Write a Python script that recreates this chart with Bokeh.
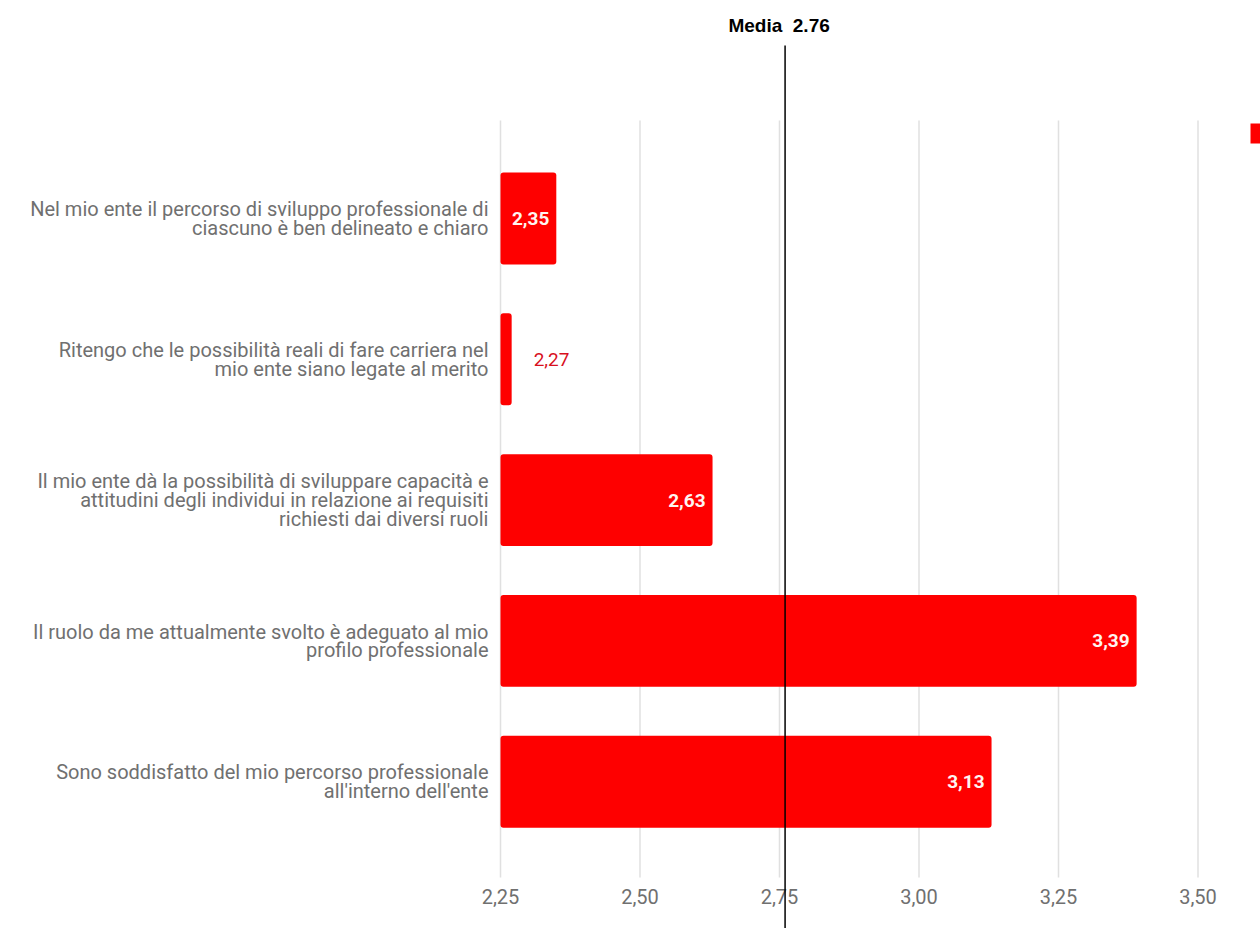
from bokeh.plotting import figure
from bokeh.models import Range1d, ColumnDataSource
from bokeh.core.properties import value
from bokeh.embed import file_html
from bokeh.resources import INLINE

# ---- data ----
categories = [
    "Nel mio ente il percorso di sviluppo professionale di\nciascuno è ben delineato e chiaro",
    "Ritengo che le possibilità reali di fare carriera nel\nmio ente siano legate al merito",
    "Il mio ente dà la possibilità di sviluppare capacità e\nattitudini degli individui in relazione ai requisiti\nrichiesti dai diversi ruoli",
    "Il ruolo da me attualmente svolto è adeguato al mio\nprofilo professionale",
    "Sono soddisfatto del mio percorso professionale\nall'interno dell'ente",
]
values = [2.35, 2.27, 2.63, 3.39, 3.13]
value_labels = ["2,35", "2,27", "2,63", "3,39", "3,13"]
tick_values = [2.25, 2.50, 2.75, 3.00, 3.25, 3.50]
tick_labels = ["2,25", "2,50", "2,75", "3,00", "3,25", "3,50"]
baseline = 2.25
media = 2.76
media_label = "Media \u00a02.76"

# ---- layout ----
W, H = 1260, 928
PX_X = 558.0           # pixels per unit on x
PX_Y = 140.8           # pixels per category
x0 = baseline - 500 / PX_X
x1 = x0 + W / PX_X
ytop = -218 / PX_Y
ybot = ytop + H / PX_Y


def py(page_y):
    return page_y / PX_Y + ytop


p = figure(width=W, height=H, output_backend="svg", toolbar_location=None,
           x_range=Range1d(x0, x1), y_range=Range1d(ybot, ytop),
           min_border=0, min_border_left=0, min_border_right=0,
           min_border_top=0, min_border_bottom=0)
p.axis.visible = False
p.grid.visible = False
p.outline_line_color = None
p.background_fill_color = "white"
p.border_fill_color = "white"

idx = list(range(len(categories)))

# grid lines
p.segment(x0=tick_values, x1=tick_values, y0=[py(120)] * len(tick_values),
          y1=[py(877)] * len(tick_values), line_color="#e0e0e0", line_width=1.5)

# bars
src = ColumnDataSource(dict(y=idx, right=values, lab=value_labels,
                            cat=categories))
p.hbar(y="y", left=baseline, right="right", height=0.653, source=src,
       fill_color="#fe0000", line_color=None, border_radius=3)

# category labels
p.text(x=baseline, y="y", text="cat", source=src, text_align="right",
       text_baseline="middle", x_offset=-12, text_font=value("Roboto"),
       text_font_size="20px", text_color="#707070", text_line_height=0.78)

# value labels
inside = [i for i in idx if values[i] - baseline > 0.06]
outside = [i for i in idx if values[i] - baseline <= 0.06]
p.text(x=[values[i] for i in inside], y=inside,
       text=[value_labels[i] for i in inside], text_align="right",
       text_baseline="middle", x_offset=-7, text_font=value("Roboto"),
       text_font_style="bold", text_font_size="19px", text_color="#fff4f0")
p.text(x=[values[i] for i in outside], y=outside,
       text=[value_labels[i] for i in outside], text_align="left",
       text_baseline="middle", x_offset=22, text_font=value("Roboto"),
       text_font_size="19px", text_color="#d8101e")

# tick labels
p.text(x=tick_values, y=[py(896)] * len(tick_values), text=tick_labels,
       text_align="center", text_baseline="middle", text_font=value("Roboto"),
       text_font_size="20px", text_color="#707070")

# media line and label
p.segment(x0=[media], x1=[media], y0=[py(45)], y1=[ybot + 1], line_color="black",
          line_width=1.5)
p.text(x=[media], y=[py(25)], text=[media_label], text_align="center",
       text_baseline="middle", text_font=value("Liberation Sans"),
       text_font_style="bold", text_font_size="19px", text_color="black",
       x_offset=-6)

# legend marker (cut at right edge)
p.quad(left=[x0 + 1250 / PX_X], right=[x1 + 1], top=[py(123)],
       bottom=[py(143)], fill_color="#fe0000", line_color=None)

open("out.html", "w").write(file_html(p, INLINE))
